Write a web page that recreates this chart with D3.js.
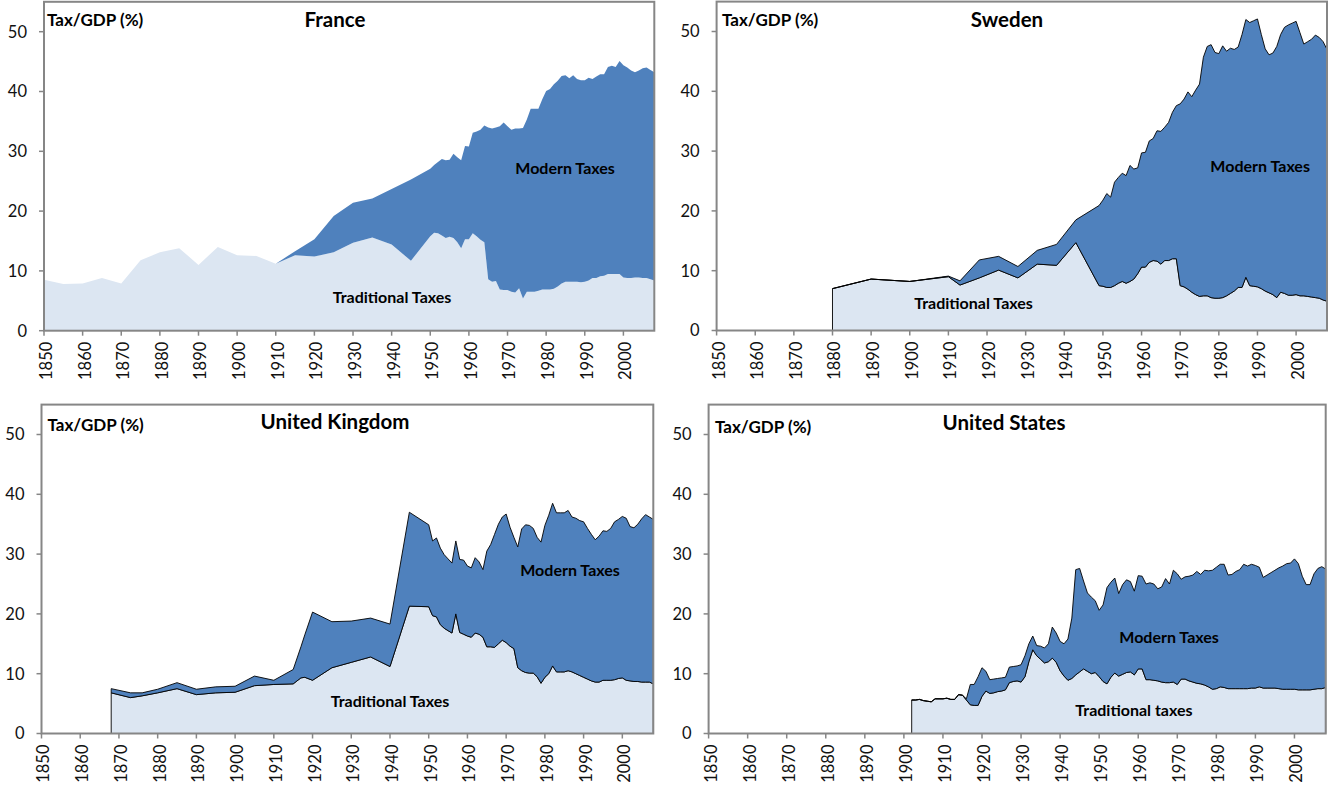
<!DOCTYPE html>
<html>
<head>
<meta charset="utf-8">
<script src="https://cdn.jsdelivr.net/npm/d3@7"></script>
<style>
  body { margin: 0; background: #ffffff; }
  svg { display: block; font-family: Lato, "Open Sans", "Liberation Sans", sans-serif; }
</style>
</head>
<body>
<svg id="chart" width="1329" height="790"></svg>
<script>
// ---------------- DATA ----------------
const xTickYears = [1850,1860,1870,1880,1890,1900,1910,1920,1930,1940,1950,1960,1970,1980,1990,2000];
const yTickValues = [0,10,20,30,40,50];
const seriesNames = ["Traditional Taxes", "Modern Taxes"];

// France
const franceYears = [1850,1855,1860,1865,1870,1875,1880,1885,1890,1895,1900,1905,1910,1915,1920,1925,1930,1935,1940,1945,
  1950,1951,1952,1953,1954,1955,1956,1957,1958,1959,
  1960,1961,1962,1963,1964,1965,1966,1967,1968,1969,
  1970,1971,1972,1973,1974,1975,1976,1977,1978,1979,
  1980,1981,1982,1983,1984,1985,1986,1987,1988,1989,
  1990,1991,1992,1993,1994,1995,1996,1997,1998,1999,
  2000,2001,2002,2003,2004,2005,2006,2007,2008];
const franceTraditional = [8.5,7.8,7.9,8.8,7.9,11.8,13.1,13.8,11.0,14.0,12.6,12.5,11.2,12.6,12.4,13.1,14.7,15.6,14.4,11.7,
  15.8,16.4,16.3,15.9,15.5,15.7,15.5,14.8,13.8,15.3,
  15.3,16.3,15.8,15.2,14.8,8.6,8.2,8.3,6.9,6.8,
  6.8,6.5,6.4,7.1,5.4,6.5,6.5,6.5,6.7,6.9,
  6.9,6.9,7.0,7.4,7.9,8.2,8.2,8.2,8.2,8.1,
  8.2,8.4,8.8,8.8,9.1,9.2,9.5,9.5,9.5,9.5,
  8.9,8.8,8.8,8.9,8.9,8.8,8.8,8.6,8.4];
const franceTotal = [8.5,7.8,7.9,8.8,7.9,11.8,13.1,13.8,11.0,14.0,12.6,12.5,11.2,13.3,15.3,19.2,21.4,22.1,23.7,25.3,
  27.1,27.7,28.2,28.7,28.5,28.6,29.6,29.0,28.5,30.9,
  30.8,33.1,33.3,33.6,34.3,34.0,33.8,34.0,34.2,34.8,
  34.2,33.6,33.8,33.8,33.9,35.3,37.1,37.1,37.1,38.7,
  40.1,40.4,41.2,41.8,42.6,42.7,42.2,42.7,42.1,41.9,
  41.9,42.3,42.1,42.5,42.9,42.9,44.1,44.3,44.1,45.1,
  44.4,44.0,43.5,43.2,43.5,43.9,44.0,43.6,43.2];

// Sweden
const swedenYears = [1880,1890,1900,1910,1913,1918,1923,1928,1933,1938,1943,1949,
  1950,1951,1952,1953,1954,1955,1956,1957,1958,1959,
  1960,1961,1962,1963,1964,1965,1966,1967,1968,1969,
  1970,1971,1972,1973,1974,1975,1976,1977,1978,1979,
  1980,1981,1982,1983,1984,1985,1986,1987,1988,1989,
  1990,1991,1992,1993,1994,1995,1996,1997,1998,1999,
  2000,2001,2002,2003,2004,2005,2006,2007,2008];
const swedenTraditional = [7.0,8.6,8.2,9.0,7.6,8.8,10.1,8.8,11.1,10.9,14.7,7.5,
  7.4,7.2,7.2,7.5,7.9,8.2,7.9,8.2,8.6,9.5,
  10.6,10.6,11.4,11.7,11.6,11.1,11.7,11.7,12.0,12.0,
  7.5,7.3,6.9,6.4,6.0,5.7,5.8,5.8,5.5,5.4,
  5.4,5.5,5.8,6.2,6.6,7.2,7.2,8.9,7.5,7.4,
  7.3,7.0,6.6,6.3,6.0,5.5,6.4,6.2,5.9,5.9,
  6.0,5.8,5.8,5.7,5.6,5.5,5.4,5.1,4.9];
const swedenTotal = [7.0,8.6,8.2,9.1,8.3,11.8,12.4,10.7,13.4,14.4,18.5,20.9,
  21.8,22.9,22.3,24.8,25.6,26.3,25.9,27.6,27.0,27.2,
  29.7,29.8,31.7,32.1,33.4,33.3,34.0,34.8,36.5,37.6,
  37.9,38.7,39.9,39.1,40.2,41.2,45.7,47.5,47.8,46.5,
  46.3,47.6,46.7,47.2,47.0,47.4,49.5,52.0,51.5,51.8,
  52.1,49.5,47.1,46.1,46.4,47.5,49.5,50.7,51.1,51.4,
  51.7,49.8,47.9,48.3,48.7,49.4,49.0,48.3,47.0];

// United Kingdom
const ukYears = [1868,1873,1876,1880,1885,1890,1895,1900,1905,1910,1915,1917,1918,1920,1925,1930,1935,1940,1945,
  1950,1951,1952,1953,1954,1955,1956,1957,1958,1959,
  1960,1961,1962,1963,1964,1965,1966,1967,1968,1969,
  1970,1971,1972,1973,1974,1975,1976,1977,1978,1979,
  1980,1981,1982,1983,1984,1985,1986,1987,1988,1989,
  1990,1991,1992,1993,1994,1995,1996,1997,1998,1999,
  2000,2001,2002,2003,2004,2005,2006,2007,2008];
const ukTraditional = [6.8,6.0,6.3,6.8,7.5,6.5,6.8,6.9,8.0,8.2,8.3,9.3,9.4,8.9,11.0,11.9,12.8,11.2,21.3,
  21.2,19.7,19.5,18.2,17.6,17.2,16.8,20.0,16.9,16.6,
  16.3,16.1,16.8,16.6,16.1,14.5,14.5,14.4,15.0,15.6,
  15.2,14.6,14.2,11.0,10.5,10.2,10.1,10.1,9.5,8.4,
  9.4,10.0,11.3,10.3,10.3,10.3,10.5,10.3,10.0,9.7,
  9.4,9.1,8.8,8.6,8.6,8.9,8.9,8.9,9.0,9.2,
  9.3,8.9,8.8,8.7,8.7,8.6,8.6,8.6,8.3];
const ukTotal = [7.5,6.8,6.8,7.4,8.5,7.4,7.8,7.9,9.6,8.9,10.7,14.5,16.5,20.3,18.7,18.8,19.3,18.3,37.0,
  34.9,32.2,32.7,31.0,29.9,29.2,28.5,32.2,29.1,29.0,
  28.0,27.7,29.4,28.7,27.4,30.5,31.6,33.3,35.0,36.2,
  36.7,34.5,32.8,31.2,34.2,34.9,34.8,34.3,32.8,32.0,
  34.8,36.5,38.5,36.9,36.9,36.9,37.3,36.2,36.0,35.6,
  35.4,34.3,33.3,32.4,33.0,33.9,33.8,34.3,35.4,35.8,
  36.3,36.0,34.6,34.4,35.0,35.9,36.6,36.2,35.8];

// United States (annual 1902-2008)
const usYears = d3.range(1902, 2009);
const usTraditional = [5.6,5.6,5.7,5.5,5.4,5.3,5.8,5.8,5.8,5.9,
  5.7,5.7,6.5,6.4,5.6,4.8,4.7,4.7,6.2,7.1,
  6.7,6.8,7.0,7.1,7.3,8.5,8.7,8.8,8.6,9.5,
  12.0,14.0,13.0,12.4,11.8,12.0,12.6,11.9,10.5,9.6,
  8.9,9.2,9.8,10.3,10.8,10.4,10.0,10.2,9.5,8.7,
  8.3,9.4,10.1,9.6,9.9,10.2,10.3,9.8,10.8,10.8,
  9.0,9.0,8.9,8.8,8.6,8.5,8.5,8.6,8.2,9.1,
  9.1,8.8,8.6,8.4,8.3,8.1,7.8,7.4,7.5,7.8,
  7.7,7.5,7.5,7.5,7.5,7.5,7.5,7.6,7.6,7.8,
  7.6,7.6,7.6,7.6,7.5,7.4,7.4,7.4,7.4,7.3,
  7.3,7.3,7.3,7.4,7.5,7.5,7.7];
const usTotal = [5.6,5.6,5.7,5.5,5.4,5.3,5.8,5.8,5.8,5.9,
  5.7,5.7,6.5,6.4,5.8,8.2,8.2,9.5,11.0,10.4,
  9.0,9.1,9.2,9.3,9.4,11.1,11.2,11.3,11.5,13.0,
  15.0,16.3,14.7,14.6,14.3,15.0,17.8,16.8,15.4,15.0,
  15.8,19.3,27.4,27.6,25.5,23.5,22.8,22.2,20.6,21.5,
  24.4,25.3,26.0,23.4,24.9,25.7,25.4,23.8,26.4,26.3,
  25.0,25.2,25.0,24.2,24.5,25.9,25.0,27.3,26.7,25.8,
  26.2,26.3,26.5,27.1,26.6,27.3,27.2,27.3,27.8,28.3,
  28.3,26.5,26.6,27.1,27.4,28.3,28.0,28.3,28.1,27.8,
  26.1,26.5,26.9,27.3,27.7,28.0,28.4,28.5,29.2,28.4,
  26.3,24.9,24.9,26.7,27.6,27.9,27.5];

// ---------------- LAYOUT ----------------
const panels = [
  { title: "France", years: franceYears, trad: franceTraditional, total: franceTotal, outline: false,
    left: 44, right: 654.3, bottom: 330.7, titleX: 335, titleY: 20, unitX: 47, unitY: 20,
    modernLabel: "Modern Taxes", modernAt: [1984.9, 27.2], tradLabel: "Traditional Taxes", tradAt: [1940.1, 5.5] },
  { title: "Sweden", years: swedenYears, trad: swedenTraditional, total: swedenTotal, outline: true,
    left: 716.6, right: 1327, bottom: 330.5, titleX: 1007, titleY: 20, unitX: 722, unitY: 20,
    modernLabel: "Modern Taxes", modernAt: [1990.7, 27.5], tradLabel: "Traditional Taxes", tradAt: [1916.5, 4.6] },
  { title: "United Kingdom", years: ukYears, trad: ukTraditional, total: ukTotal, outline: true,
    left: 41.5, right: 653.3, bottom: 733.5, titleX: 335, titleY: 422, unitX: 47.5, unitY: 425,
    modernLabel: "Modern Taxes", modernAt: [1986.5, 27.3], tradLabel: "Traditional Taxes", tradAt: [1940, 5.3] },
  { title: "United States", years: usYears, trad: usTraditional, total: usTotal, outline: true,
    left: 708.6, right: 1325.7, bottom: 733.5, titleX: 1004, titleY: 423, unitX: 715, unitY: 427,
    modernLabel: "Modern Taxes", modernAt: [1967.9, 16.1], tradLabel: "Traditional taxes", tradAt: [1958.9, 3.9] }
];

const PX_PER_UNIT = 5.98;
const Y_MAX = 55;
const modernColor = "#4F81BD";
const tradColor = "#DCE6F2";
const frameColor = "#868686";

const svg = d3.select("#chart");

panels.forEach(p => {
  const g = svg.append("g");
  const x = d3.scaleLinear().domain([1850, 2008]).range([p.left, p.right]);
  const y = d3.scaleLinear().domain([0, Y_MAX]).range([p.bottom, p.bottom - Y_MAX * PX_PER_UNIT]);

  const rows = p.years.map((yr, i) => ({ year: yr, trad: p.trad[i], total: p.total[i] }));

  const tradArea = d3.area().x(d => x(d.year)).y0(y(0)).y1(d => y(d.trad));
  const modernArea = d3.area().x(d => x(d.year)).y0(d => y(d.trad)).y1(d => y(d.total));

  g.append("path").datum(rows).attr("d", tradArea)
    .attr("fill", tradColor)
    .attr("stroke", p.outline ? "#000" : "none").attr("stroke-width", 0.9).attr("stroke-linejoin", "round");
  g.append("path").datum(rows).attr("d", modernArea)
    .attr("fill", modernColor)
    .attr("stroke", p.outline ? "#000" : "none").attr("stroke-width", 0.9).attr("stroke-linejoin", "round");

  // plot frame
  const top = y(Y_MAX);
  g.append("rect")
    .attr("x", p.left).attr("y", top)
    .attr("width", p.right - p.left).attr("height", y(0) - top)
    .attr("fill", "none").attr("stroke", frameColor).attr("stroke-width", 2);

  // y ticks + labels
  yTickValues.forEach(v => {
    g.append("line").attr("x1", p.left - 5).attr("x2", p.left)
      .attr("y1", y(v)).attr("y2", y(v))
      .attr("stroke", frameColor).attr("stroke-width", 1.5);
    g.append("text").attr("x", p.left - 17).attr("y", y(v)).attr("dy", "0.36em")
      .attr("text-anchor", "end").attr("font-size", 16.5).attr("fill", "#111")
      .text(v);
  });

  // x ticks + labels
  xTickYears.forEach(yr => {
    g.append("line").attr("x1", x(yr)).attr("x2", x(yr))
      .attr("y1", y(0)).attr("y2", y(0) + 5)
      .attr("stroke", frameColor).attr("stroke-width", 1.5);
    g.append("text")
      .attr("transform", `translate(${x(yr) + 2},${y(0) + 11}) rotate(-90)`)
      .attr("text-anchor", "end").attr("dy", "0.36em")
      .attr("font-size", 16.5).attr("fill", "#111")
      .text(yr);
  });

  // titles
  g.append("text").attr("x", p.titleX).attr("y", p.titleY).attr("dy", "0.35em")
    .attr("text-anchor", "middle").attr("font-size", 20.5).attr("font-weight", "bold").attr("fill", "#000")
    .text(p.title);
  g.append("text").attr("x", p.unitX).attr("y", p.unitY).attr("dy", "0.35em")
    .attr("font-size", 17).attr("font-weight", "bold").attr("fill", "#000")
    .text("Tax/GDP (%)");

  // series labels
  g.append("text").attr("x", x(p.modernAt[0])).attr("y", y(p.modernAt[1])).attr("dy", "0.35em")
    .attr("text-anchor", "middle").attr("font-size", 16).attr("font-weight", "bold").attr("fill", "#000")
    .text(p.modernLabel);
  g.append("text").attr("x", x(p.tradAt[0])).attr("y", y(p.tradAt[1])).attr("dy", "0.35em")
    .attr("text-anchor", "middle").attr("font-size", 16).attr("font-weight", "bold").attr("fill", "#000")
    .text(p.tradLabel);
});
</script>
</body>
</html>
